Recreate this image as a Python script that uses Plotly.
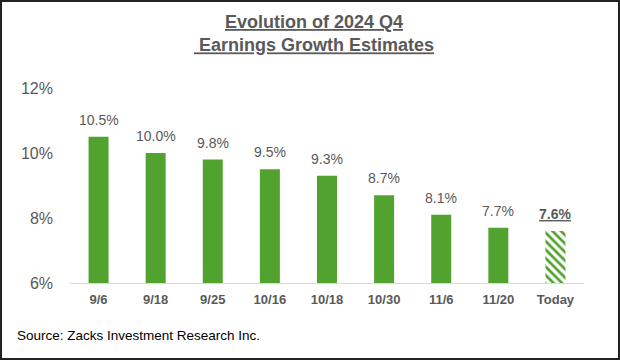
import plotly.graph_objects as go

categories = ["9/6", "9/18", "9/25", "10/16", "10/18", "10/30", "11/6", "11/20", "Today"]
values = [10.5, 10.0, 9.8, 9.5, 9.3, 8.7, 8.1, 7.7, 7.6]
labels = ["10.5%", "10.0%", "9.8%", "9.5%", "9.3%", "8.7%", "8.1%", "7.7%", "<b><u>7.6%</u></b>"]
y_ticks = [6, 8, 10, 12]
y_tick_labels = ["6%", "8%", "10%", "12%"]

GREEN = "#52a22f"
GRAY = "#595959"
FONT = "Liberation Sans, Arial"
W, H = 620, 360
ML, MR, MT, MB = 70, 36, 88, 77

fig = go.Figure()
# solid bars (all but the last, "Today")
fig.add_trace(go.Bar(
    x=categories[:-1], y=values[:-1],
    marker=dict(color=GREEN, line=dict(width=0)),
    width=0.35, hoverinfo="skip",
))
# hatched "Today" bar
fig.add_trace(go.Bar(
    x=categories[-1:], y=values[-1:],
    marker=dict(color="white", line=dict(width=0),
                pattern=dict(shape="\\", fgcolor=GREEN, bgcolor="white",
                             fgopacity=1, size=6, solidity=0.45, fillmode="replace")),
    width=0.35, hoverinfo="skip",
))

pw = W - ML - MR
ph = H - MT - MB

label_annots = [
    dict(x=c, y=v, text=t, xref="x", yref="y", showarrow=False,
         xanchor="center", yanchor="bottom", yshift=7,
         font=dict(size=14, color=GRAY, family=FONT))
    for c, v, t in zip(categories, values, labels)
]

fig.update_layout(
    width=W, height=H,
    margin=dict(l=ML, r=MR, t=MT, b=MB),
    plot_bgcolor="white", paper_bgcolor="white",
    showlegend=False, barmode="overlay",
    font=dict(family=FONT, color=GRAY),
    xaxis=dict(
        showline=True, linecolor="#d9d9d9", linewidth=1,
        categoryorder="array", categoryarray=categories,
        tickfont=dict(size=13, color=GRAY, family=FONT, weight="bold"),
        ticks="", showgrid=False, automargin=False, ticklabelstandoff=4,
    ),
    yaxis=dict(
        range=[6, 12], tickvals=y_ticks, ticktext=y_tick_labels,
        showgrid=False, zeroline=False, showline=False, ticks="",
        tickfont=dict(size=16, color=GRAY, family=FONT),
        ticklabelstandoff=16, automargin=False,
    ),
    annotations=label_annots + [
        dict(text="<b><u>Evolution of 2024 Q4</u></b><br><b><u> Earnings Growth Estimates</u></b>",
             xref="paper", yref="paper", x=(314 - ML) / pw, y=1 + (MT - 10) / ph,
             xanchor="center", yanchor="top", showarrow=False,
             font=dict(size=18, color=GRAY, family=FONT)),
        dict(text="Source: Zacks Investment Research Inc.",
             xref="paper", yref="paper", x=(15 - ML) / pw, y=-(335 - MT - ph) / ph,
             xanchor="left", yanchor="middle", showarrow=False,
             font=dict(size=13.5, color="black", family=FONT)),
    ],
    shapes=[dict(type="rect", xref="paper", yref="paper",
                 x0=(1 - ML) / pw, x1=(W - 1 - ML) / pw,
                 y0=-(H - 1 - MT - ph) / ph, y1=1 + (MT - 1) / ph,
                 line=dict(color="#222222", width=2), fillcolor="rgba(0,0,0,0)")],
)

fig.write_html("out.html", config={"displayModeBar": False},
               post_script="document.body.style.margin='0';document.body.style.overflow='hidden';")
